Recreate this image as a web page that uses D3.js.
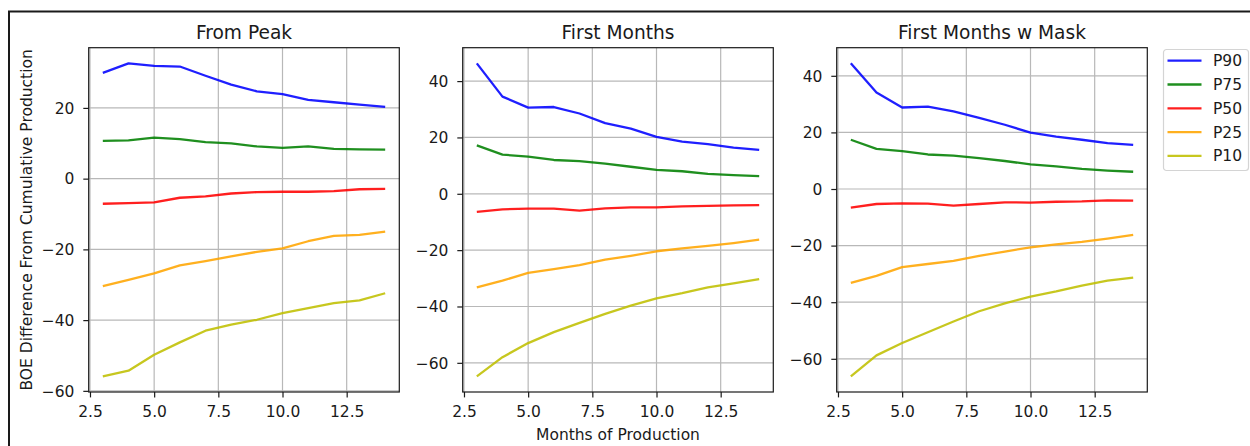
<!DOCTYPE html>
<html>
<head>
<meta charset="utf-8">
<script src="https://cdn.jsdelivr.net/npm/d3@7"></script>
<style>
  html, body { margin: 0; padding: 0; background: #fff; }
  svg { display: block; font-family: "DejaVu Sans", sans-serif; }
</style>
</head>
<body>
<svg id="chart" width="1250" height="446"></svg>
<script>
// Months of production on the x axis
const months = [3, 4, 5, 6, 7, 8, 9, 10, 11, 12, 13, 14];

// Percentile series names and colours
const seriesNames = ["P90", "P75", "P50", "P25", "P10"];
const seriesColors = ["#0000ff", "#008000", "#ff0000", "#ffa500", "#bfbf00"];

// Panel titles
const panelTitles = ["From Peak", "First Months", "First Months w Mask"];

// From Peak
const fromPeakP90 = [29.9, 32.6, 31.9, 31.7, 29.1, 26.6, 24.7, 23.9, 22.3, 21.6, 20.9, 20.3];
const fromPeakP75 = [10.7, 10.8, 11.6, 11.2, 10.3, 10.0, 9.1, 8.7, 9.1, 8.4, 8.3, 8.2];
const fromPeakP50 = [-7.1, -6.9, -6.7, -5.4, -5.0, -4.2, -3.8, -3.7, -3.7, -3.5, -3.0, -2.9];
const fromPeakP25 = [-30.4, -28.6, -26.8, -24.5, -23.3, -22.0, -20.7, -19.7, -17.7, -16.2, -15.9, -15.0];
const fromPeakP10 = [-55.9, -54.3, -49.8, -46.3, -43.0, -41.3, -39.9, -38.0, -36.6, -35.2, -34.4, -32.4];

// First Months
const firstP90 = [46.3, 34.5, 30.6, 30.8, 28.5, 25.1, 23.1, 20.2, 18.5, 17.6, 16.4, 15.6];
const firstP75 = [17.2, 13.9, 13.2, 12.0, 11.6, 10.7, 9.6, 8.5, 8.0, 7.1, 6.6, 6.3];
const firstP50 = [-6.4, -5.5, -5.3, -5.3, -6.0, -5.2, -4.8, -4.8, -4.5, -4.3, -4.1, -4.0];
const firstP25 = [-33.2, -30.8, -28.1, -26.7, -25.3, -23.4, -22.0, -20.4, -19.4, -18.5, -17.5, -16.3];
const firstP10 = [-64.8, -58.0, -53.0, -49.1, -45.8, -42.6, -39.7, -37.1, -35.3, -33.2, -31.8, -30.3];

// First Months w Mask
const maskP90 = [44.4, 34.1, 28.8, 29.1, 27.4, 25.1, 22.7, 19.9, 18.5, 17.4, 16.2, 15.6];
const maskP75 = [17.4, 14.2, 13.4, 12.2, 11.8, 10.9, 9.9, 8.7, 8.0, 7.1, 6.5, 6.1];
const maskP50 = [-6.6, -5.3, -5.1, -5.2, -5.9, -5.3, -4.7, -4.8, -4.5, -4.4, -4.0, -4.1];
const maskP25 = [-33.2, -30.7, -27.6, -26.5, -25.4, -23.6, -22.1, -20.6, -19.6, -18.7, -17.5, -16.2];
const maskP10 = [-66.2, -58.8, -54.4, -50.6, -46.8, -43.2, -40.4, -38.0, -36.2, -34.1, -32.4, -31.3];

// Tick values
const xTickValues = [2.5, 5.0, 7.5, 10.0, 12.5];
const yTickValues = [-60, -40, -20, 0, 20, 40];

const panels = [
  [fromPeakP90, fromPeakP75, fromPeakP50, fromPeakP25, fromPeakP10],
  [firstP90, firstP75, firstP50, firstP25, firstP10],
  [maskP90, maskP75, maskP50, maskP25, maskP10]
];

// Layout
const panelLefts = [88.7, 462.7, 836.7];
const panelWidth = 310.6;
const panelTop = 47.7;
const panelHeight = 344.3;
const fontSize = 15.5;
const titleSize = 18.6;
const textColor = "#1a1a1a";

const svg = d3.select("#chart");

// Outer frame
svg.append("rect")
  .attr("x", 9).attr("y", 11.5)
  .attr("width", 1400).attr("height", 600)
  .attr("fill", "none").attr("stroke", "#1a1a1a").attr("stroke-width", 2);

// x range with 5% padding around the data
const xMin = d3.min(months), xMax = d3.max(months);
const xPad = (xMax - xMin) * 0.05;

panels.forEach((seriesList, pi) => {
  const left = panelLefts[pi];
  const g = svg.append("g").attr("transform", `translate(${left},${panelTop})`);

  const x = d3.scaleLinear()
    .domain([xMin - xPad, xMax + xPad])
    .range([0, panelWidth]);

  const all = seriesList.flat();
  const yLo = d3.min(all), yHi = d3.max(all);
  const yPad = (yHi - yLo) * 0.05;
  const y = d3.scaleLinear()
    .domain([yLo - yPad, yHi + yPad])
    .range([panelHeight, 0]);

  const yTicks = yTickValues.filter(v => v >= y.domain()[0] && v <= y.domain()[1]);

  // Grid
  const grid = g.append("g").attr("stroke", "#b8b8b8").attr("stroke-width", 1.2);
  xTickValues.forEach(v => {
    grid.append("line")
      .attr("x1", x(v)).attr("x2", x(v))
      .attr("y1", 0).attr("y2", panelHeight);
  });
  yTicks.forEach(v => {
    grid.append("line")
      .attr("x1", 0).attr("x2", panelWidth)
      .attr("y1", y(v)).attr("y2", y(v));
  });

  // Series lines
  const line = d3.line()
    .x((d, i) => x(months[i]))
    .y(d => y(d));

  seriesList.forEach((vals, si) => {
    g.append("path")
      .datum(vals)
      .attr("d", line)
      .attr("fill", "none")
      .attr("stroke", seriesColors[si])
      .attr("stroke-opacity", 0.88)
      .attr("stroke-width", 2.3)
      .attr("stroke-linejoin", "round");
  });

  // Axes
  const xAxis = g.append("g")
    .attr("transform", `translate(0,${panelHeight})`)
    .call(d3.axisBottom(x).tickValues(xTickValues).tickFormat(d3.format(".1f"))
      .tickSize(5.4).tickSizeOuter(0));
  xAxis.selectAll("text")
    .attr("y", 25).attr("dy", null)
    .attr("font-size", fontSize).attr("fill", textColor)
    .attr("font-family", "DejaVu Sans");

  const yAxis = g.append("g")
    .call(d3.axisLeft(y).tickValues(yTicks).tickFormat(d3.format("d"))
      .tickSize(5.4).tickSizeOuter(0));
  yAxis.selectAll("text")
    .attr("x", -14.3).attr("dy", "0.34em")
    .attr("font-size", fontSize).attr("fill", textColor)
    .attr("font-family", "DejaVu Sans");

  [xAxis, yAxis].forEach(a => {
    a.select(".domain").remove();
    a.selectAll(".tick line").attr("stroke", "#1a1a1a").attr("stroke-width", 1.2);
  });

  // Frame
  g.append("rect")
    .attr("x", 0).attr("y", 0)
    .attr("width", panelWidth).attr("height", panelHeight)
    .attr("fill", "none").attr("stroke", "#1a1a1a").attr("stroke-width", 1.2);

  // Title
  g.append("text")
    .attr("x", panelWidth / 2).attr("y", 39 - panelTop)
    .attr("text-anchor", "middle")
    .attr("font-size", titleSize).attr("fill", textColor)
    .text(panelTitles[pi]);
});

// Axis labels
svg.append("text")
  .attr("transform", `translate(32.3,${panelTop + panelHeight / 2}) rotate(-90)`)
  .attr("text-anchor", "middle")
  .attr("font-size", fontSize).attr("fill", textColor)
  .text("BOE Difference From Cumulative Production");

svg.append("text")
  .attr("x", panelLefts[1] + panelWidth / 2).attr("y", 439.5)
  .attr("text-anchor", "middle")
  .attr("font-size", fontSize).attr("fill", textColor)
  .text("Months of Production");

// Legend
const legend = svg.append("g").attr("transform", "translate(1163.5,49.5)");
legend.append("rect")
  .attr("width", 85).attr("height", 121).attr("rx", 3)
  .attr("fill", "#fff").attr("fill-opacity", 0.8)
  .attr("stroke", "#d4d4d4").attr("stroke-width", 1.2);
seriesNames.forEach((name, i) => {
  const cy = 11.2 + i * 23.8;
  legend.append("line")
    .attr("x1", 4).attr("x2", 38)
    .attr("y1", cy).attr("y2", cy)
    .attr("stroke", seriesColors[i]).attr("stroke-opacity", 0.88)
    .attr("stroke-width", 2.3);
  legend.append("text")
    .attr("x", 49.5).attr("y", cy).attr("dy", "0.36em")
    .attr("font-size", fontSize).attr("fill", textColor)
    .text(name);
});
</script>
</body>
</html>
